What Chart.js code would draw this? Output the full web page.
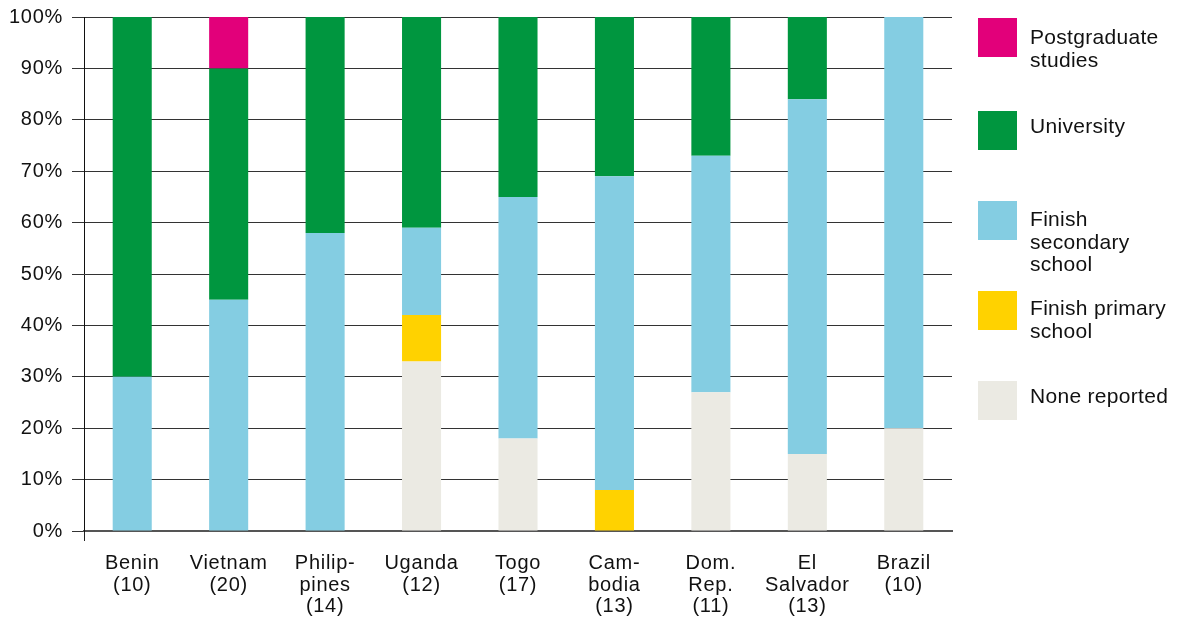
<!DOCTYPE html>
<html>
<head>
<meta charset="utf-8">
<script src="https://cdn.jsdelivr.net/npm/chart.js@4"></script>
<style>
  html, body { margin: 0; padding: 0; background: #fff; }
  #wrap { position: relative; width: 1180px; height: 617px; }
  #legend { position: absolute; left: 0; top: 0; }
  .lg-box { position: absolute; left: 978px; width: 39px; height: 39px; }
  .lg-text { position: absolute; left: 1030px; font: 21px "Liberation Sans", Arial, sans-serif; line-height: 22.5px; letter-spacing: 0.3px; color: #111; white-space: nowrap; }
</style>
</head>
<body>
<div id="wrap">
  <canvas id="eduChart" width="1180" height="617"></canvas>
  <div id="legend"></div>
</div>
<script>
// --- data ---
const countries = [
    ["Benin", "(10)"],
    ["Vietnam", "(20)"],
    ["Philip-", "pines", "(14)"],
    ["Uganda", "(12)"],
    ["Togo", "(17)"],
    ["Cam-", "bodia", "(13)"],
    ["Dom.", "Rep.", "(11)"],
    ["El", "Salvador", "(13)"],
    ["Brazil", "(10)"],
];
const noneReported = [0, 0, 0, 33, 18, 0, 27, 15, 20];
const finishPrimary = [0, 0, 0, 9, 0, 8, 0, 0, 0];
const finishSecondary = [30, 45, 58, 17, 47, 61, 46, 69, 80];
const university = [70, 45, 42, 41, 35, 31, 27, 16, 0];
const postgraduate = [0, 10, 0, 0, 0, 0, 0, 0, 0];
const yTicks = [0, 10, 20, 30, 40, 50, 60, 70, 80, 90, 100];

// legend labels (one entry per line), top to bottom
const legendItems = [
    { lines: ["Postgraduate", "studies"], color: "#E2007A" },
    { lines: ["University"], color: "#00963F" },
    { lines: ["Finish", "secondary", "school"], color: "#84CDE2" },
    { lines: ["Finish primary", "school"], color: "#FFD200" },
    { lines: ["None reported"], color: "#EBEAE3" },
];
const legendTops = [18, 111, 201, 291, 381];
const legendTextShift = [8, 4, 7, 6, 4];

const FONT = "'Liberation Sans', Arial, sans-serif";

function ds(label, data, color) {
    return {
        label: label,
        data: data,
        backgroundColor: color,
        borderWidth: 0,
        categoryPercentage: 1,
        barPercentage: 0.405,
    };
}

// slightly wider lettering, closer to the original Helvetica look
const spacingPlugin = {
    id: "spacing",
    beforeInit: function (chart) { chart.ctx.letterSpacing = "0.7px"; },
    beforeDraw: function (chart) { chart.ctx.letterSpacing = "0.7px"; },
};

const ctx = document.getElementById("eduChart").getContext("2d");
new Chart(ctx, {
    type: "bar",
    data: {
        labels: countries,
        datasets: [
            ds("None reported", noneReported, "#EBEAE3"),
            ds("Finish primary school", finishPrimary, "#FFD200"),
            ds("Finish secondary school", finishSecondary, "#84CDE2"),
            ds("University", university, "#00963F"),
            ds("Postgraduate studies", postgraduate, "#E2007A"),
        ],
    },
    plugins: [spacingPlugin],
    options: {
        responsive: false,
        animation: false,
        layout: { padding: { top: 17, right: 228, bottom: 0, left: 0 } },
        scales: {
            x: {
                stacked: true,
                grid: {
                    display: true,
                    drawOnChartArea: false,
                    offset: true,
                    tickLength: 10,
                    color: function (c) {
                        return (c.index === 0 || c.index === countries.length) ? "#222" : "rgba(0,0,0,0)";
                    },
                },
                border: { display: true, color: "#555", width: 2 },
                ticks: {
                    color: "#111",
                    padding: 12,
                    maxRotation: 0,
                    autoSkip: false,
                    font: { family: FONT, size: 20, lineHeight: 1.07 },
                },
                afterFit: function (scale) {
                    scale.height = 86;
                    scale.paddingLeft = 0;
                    scale.paddingRight = 0;
                },
            },
            y: {
                stacked: true,
                min: 0,
                max: 100,
                afterBuildTicks: function (scale) {
                    scale.ticks = yTicks.map((v) => ({ value: v }));
                },
                grid: {
                    color: "#333",
                    lineWidth: 1,
                    tickLength: 12,
                },
                border: { display: true, color: "#111", width: 1 },
                ticks: {
                    color: "#111",
                    padding: 9,
                    font: { family: FONT, size: 20 },
                    callback: function (v) { return v + "%"; },
                },
                afterFit: function (scale) {
                    scale.width = 84;
                    scale.paddingTop = 0;
                    scale.paddingBottom = 0;
                },
            },
        },
        plugins: {
            legend: { display: false },
            tooltip: { enabled: false },
        },
    },
});

// --- HTML legend ---
const legendEl = document.getElementById("legend");
legendItems.forEach((item, i) => {
    const box = document.createElement("div");
    box.className = "lg-box";
    box.style.top = legendTops[i] + "px";
    box.style.background = item.color;
    legendEl.appendChild(box);
    const txt = document.createElement("div");
    txt.className = "lg-text";
    txt.style.top = (legendTops[i] + legendTextShift[i]) + "px";
    txt.innerHTML = item.lines.join("<br>");
    legendEl.appendChild(txt);
});
</script>
</body>
</html>
